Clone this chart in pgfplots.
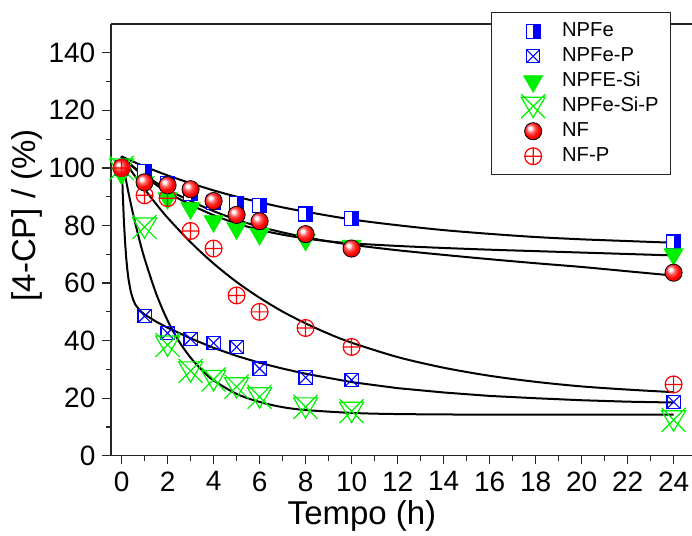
\documentclass[border=0pt]{standalone}
\usepackage{fontspec}
\setmainfont{Liberation Sans}
\usepackage{pgfplots}
\pgfplotsset{compat=1.18}
\usetikzlibrary{plotmarks}

\definecolor{pblue}{RGB}{0,0,255}
\definecolor{pgreen}{RGB}{0,240,0}
\definecolor{pred}{RGB}{255,0,0}

% glossy ball shading (brighter than default)
\makeatletter
\pgfdeclareradialshading[tikz@ball]{ball}{\pgfqpoint{-10bp}{10bp}}{%
  color(0bp)=(tikz@ball!0!white); color(4bp)=(tikz@ball!0!white);
  color(12bp)=(tikz@ball!65!white); color(22bp)=(tikz@ball);
  color(36bp)=(tikz@ball!92!black); color(50bp)=(tikz@ball!78!black)}
\makeatother

% half filled square
\pgfdeclareplotmark{halfsq}{%
  \pgfpathrectangle{\pgfpoint{-\pgfplotmarksize}{-\pgfplotmarksize}}{\pgfpoint{2\pgfplotmarksize}{2\pgfplotmarksize}}%
  \pgfsetfillcolor{white}\pgfusepathqfill
  \pgfpathrectangle{\pgfpoint{0pt}{-\pgfplotmarksize}}{\pgfpoint{\pgfplotmarksize}{2\pgfplotmarksize}}%
  \pgfsetfillcolor{pblue}\pgfusepathqfill
  \pgfpathrectangle{\pgfpoint{-\pgfplotmarksize}{-\pgfplotmarksize}}{\pgfpoint{2\pgfplotmarksize}{2\pgfplotmarksize}}%
  \pgfusepathqstroke}
% square with x
\pgfdeclareplotmark{sqx}{%
  \pgfpathrectangle{\pgfpoint{-\pgfplotmarksize}{-\pgfplotmarksize}}{\pgfpoint{2\pgfplotmarksize}{2\pgfplotmarksize}}%
  \pgfusepathqstroke
  \pgfpathmoveto{\pgfpoint{-\pgfplotmarksize}{-\pgfplotmarksize}}\pgfpathlineto{\pgfpoint{\pgfplotmarksize}{\pgfplotmarksize}}%
  \pgfpathmoveto{\pgfpoint{-\pgfplotmarksize}{\pgfplotmarksize}}\pgfpathlineto{\pgfpoint{\pgfplotmarksize}{-\pgfplotmarksize}}%
  \pgfusepathqstroke}
% down triangle with x
\pgfdeclareplotmark{trix}{%
  \pgfpathmoveto{\pgfpoint{-\pgfplotmarksize}{0.75\pgfplotmarksize}}%
  \pgfpathlineto{\pgfpoint{\pgfplotmarksize}{0.75\pgfplotmarksize}}%
  \pgfpathlineto{\pgfpoint{0pt}{-0.95\pgfplotmarksize}}\pgfpathclose
  \pgfpathmoveto{\pgfpoint{-\pgfplotmarksize}{\pgfplotmarksize}}\pgfpathlineto{\pgfpoint{\pgfplotmarksize}{-\pgfplotmarksize}}%
  \pgfpathmoveto{\pgfpoint{\pgfplotmarksize}{\pgfplotmarksize}}\pgfpathlineto{\pgfpoint{-\pgfplotmarksize}{-\pgfplotmarksize}}%
  \pgfusepathqstroke}

\begin{document}
\begin{tikzpicture}
\useasboundingbox (-55.5pt,-39.7pt) rectangle (290.5pt,227.9pt);
\begin{axis}[
  scale only axis, width=290.5pt, height=215.9pt,
  xmin=-0.46, xmax=24.8, ymin=0, ymax=150,
  axis x line*=bottom, axis y line*=left,
  axis line style={-, line width=0.7pt, black!85},
  xtick={0,2,...,24}, ytick={0,20,...,140},
  minor x tick num=1, minor y tick num=1,
  tick align=outside, major tick length=4.3pt, minor tick length=2.5pt,
  tick style={line width=0.6pt, black!85},
  ticklabel style={font=\fontsize{14}{16}\selectfont},
  /pgf/number format/assume math mode=true,
  xlabel={Tempo (h)}, ylabel={[4-CP] / (\%)},
  label style={font=\fontsize{16.5}{19}\selectfont},
  xlabel style={at={(axis description cs:0.432,-0.139)}, anchor=center},
  ylabel style={at={(axis description cs:-0.145,0.557)}, anchor=center},
  legend style={at={(axis description cs:0.964,1.027)}, anchor=north east,
    draw=black!85, fill=white, font=\fontsize{10.1}{12}\selectfont,
    inner xsep=4pt, inner ysep=3pt, row sep=0pt,
    nodes={text height=7.5pt, text depth=2pt, inner ysep=1.5pt}},
  legend cell align=left,
  legend image code/.code={%
    \path[draw=none, fill=none] (0pt,-3pt) rectangle (29.3pt,3pt);
    \draw[#1, overlay] plot coordinates {(16.8pt,0pt)};},
]
% data
\addplot[only marks, mark=halfsq, mark size=3.5pt, mark options={draw=pblue, line width=0.6pt}] coordinates {
 (0,100) (1,98.7) (2,94.6) (3,91) (4,88) (5,87.7) (6,87) (8,84) (10,82.5) (24,74.3)};
\addlegendentry{NPFe}
\addplot[only marks, mark=sqx, mark size=3.3pt, mark options={draw=pblue, line width=0.55pt}] coordinates {
 (0,100) (1,48.5) (2,42.6) (3,40.6) (4,39.2) (5,37.8) (6,30.3) (8,27.2) (10,26.3) (24,18.7)};
\addlegendentry{NPFe-P}
\addplot[only marks, mark=triangle*, mark size=5.5pt, mark options={rotate=180, draw=pgreen, fill=pgreen}] coordinates {
 (0,98) (1,95) (2,89.5) (3,86) (4,81.5) (5,79) (6,77) (8,75) (10,73) (24,70)};
\addlegendentry{NPFE-Si}
\addplot[only marks, mark=trix, mark size=6pt, mark options={draw=pgreen, line width=0.6pt}] coordinates {
 (0,100) (1,79.5) (2,38.5) (3,29.5) (4,26.5) (5,24) (6,20.5) (8,17) (10,15.5) (24,12.5)};
\addlegendentry{NPFe-Si-P}
\addplot[only marks, mark=ball, mark size=4.3pt, mark options={ball color=pred}] coordinates {
 (0,100) (1,95) (2,94) (3,92.6) (4,88.5) (5,83.7) (6,81.5) (8,77) (10,72) (24,63.6)};
\addlegendentry{NF}
\addplot[only marks, mark=oplus, mark size=4.2pt, mark options={draw=pred, line width=0.6pt}] coordinates {
 (0,100) (1,90.5) (2,89.5) (3,78.1) (4,72) (5,55.7) (6,50) (8,44.4) (10,37.8) (24,24.8)};
\addlegendentry{NF-P}
% fitted curves
\addplot[forget plot, black, line width=1pt, smooth] coordinates {
 (0,104) (0.5,102.2) (1,100.5) (2,97.4) (3,94.7) (4,92.2) (5,90.0) (6,88.1) (7,86.3) (8,84.8) (10,82.1) (12,80.1) (14,78.4) (16,77.1) (18,76.0) (20,75.2) (22,74.6) (24,74.0)};
\addplot[forget plot, black, line width=1pt, smooth] coordinates {
 (0,104) (0.5,100.3) (1,97) (2,91.5) (3,87.2) (4,83.6) (5,80.7) (6,78.5) (7,76.8) (8,75.5) (9,74.5) (10,73.8) (12,72.9) (14,72.2) (16,71.6) (18,71.1) (20,70.6) (22,70.1) (24,69.6)};
\addplot[forget plot, black, line width=1pt, smooth] coordinates {
 (0,104) (0.5,100.5) (1,97.5) (2,92.5) (3,88.5) (4,85) (5,82) (6,79.6) (7,77.6) (8,75.9) (9,74.5) (10,73.3) (12,71.4) (14,69.8) (16,68.3) (18,66.9) (20,65.6) (22,64.1) (24,62.6)};
\addplot[forget plot, black, line width=1pt, smooth] coordinates {
 (0,104) (0.5,98.1) (1,92.6) (1.5,87.5) (2,82.7) (3,74.2) (4,66.8) (5,60.4) (6,54.9) (7,50.1) (8,46.0) (9,42.4) (10,39.3) (12,34.3) (14,30.6) (16,27.8) (18,25.7) (20,24.1) (22,23.0) (24,22.1)};
\addplot[forget plot, black, line width=1pt] coordinates {
 (0,104) (0.05,91.3) (0.1,81.7) (0.15,74.5) (0.2,68.9) (0.25,64.7) (0.3,61.4) (0.4,57.0) (0.5,54.3) (0.6,52.5) (0.8,50.4) (1,49.1) (1.5,46.6) (2,44.5) (3,40.8) (4,37.5) (5,34.7) (6,32.3) (7,30.3) (8,28.5) (10,25.6) (12,23.5) (14,22.0) (16,20.8) (18,20.0) (20,19.3) (22,18.8) (24,18.5)};
\addplot[forget plot, black, line width=1pt, smooth] coordinates {
 (0,104) (0.25,93.4) (0.5,84.0) (0.75,75.8) (1,68.5) (1.5,56.4) (2,47.0) (2.5,39.7) (3,34.1) (3.5,29.7) (4,26.2) (5,21.5) (6,18.7) (7,16.9) (8,15.9) (10,14.9) (12,14.5) (16,14.3) (24,14.3)};
\draw[line width=0.7pt, black!85] (rel axis cs:0,1) -- (rel axis cs:1,1);
\end{axis}
\end{tikzpicture}
\end{document}
